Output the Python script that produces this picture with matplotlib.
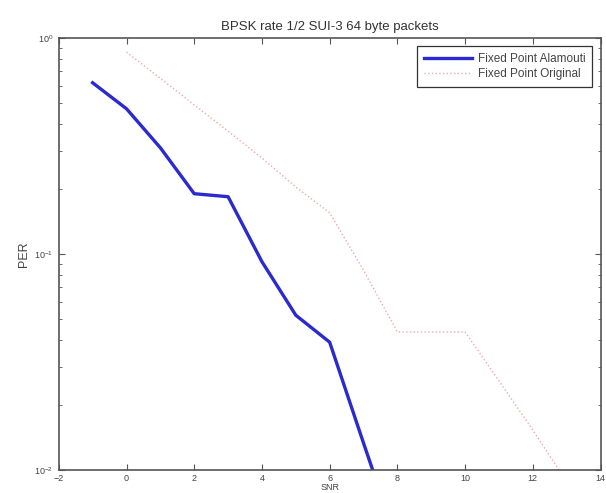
import matplotlib
matplotlib.use("Agg")
import matplotlib.pyplot as plt
from matplotlib.ticker import LogLocator, NullFormatter

plt.rcParams['font.family'] = ['Liberation Sans', 'DejaVu Sans']

snr_alamouti = [-1, 0, 1, 2, 3, 4, 5, 6, 7, 8]
per_alamouti = [0.62, 0.47, 0.31, 0.19, 0.184, 0.092, 0.052, 0.039, 0.0133, 0.0046]

snr_original = [0, 1, 2, 3, 4, 5, 6, 7, 8, 9, 10, 11, 12, 13]
per_original = [0.86, 0.65, 0.49, 0.37, 0.278, 0.204, 0.155, 0.084, 0.0435,
                0.0435, 0.0435, 0.0258, 0.0153, 0.0088]

xticks = [-2, 0, 2, 4, 6, 8, 10, 12, 14]

fig = plt.figure(figsize=(6.06, 4.93), dpi=100)
ax = fig.add_axes([0.097, 0.047, 0.894, 0.876])

ax.plot(snr_alamouti, per_alamouti, color='#2a2ad0', lw=2.4,
        label='Fixed Point Alamouti')
ax.plot(snr_original, per_original, color='#f0a8a8', lw=1.0, ls=':',
        label='Fixed Point Original')

ax.set_yscale('log')
ax.set_xlim(-2, 14)
ax.set_ylim(1e-2, 1e0)
ax.set_xticks(xticks)
ax.yaxis.set_major_locator(LogLocator(base=10, numticks=5))
ax.yaxis.set_minor_locator(LogLocator(base=10, subs=range(2, 10), numticks=20))
ax.yaxis.set_minor_formatter(NullFormatter())

ax.tick_params(which='both', direction='in', top=True, right=True,
               labelsize=6.5, colors='#555555', labelcolor='#444444')
ax.tick_params(which='major', length=4)
ax.tick_params(axis='x', which='major', pad=3)
ax.tick_params(axis='y', which='major', pad=4)
ax.tick_params(which='minor', length=2)
for s in ax.spines.values():
    s.set_color('#555555')
    s.set_linewidth(1.2)

ax.set_title('BPSK rate 1/2 SUI-3 64 byte packets', fontsize=9.5,
             color='#333333', pad=6)
ax.set_xlabel('SNR', fontsize=6.5, color='#444444', labelpad=0)
ax.set_ylabel('PER', fontsize=9, color='#444444', labelpad=3)

leg = ax.legend(loc='upper right', fontsize=8.5, fancybox=False,
                framealpha=1, edgecolor='#333333', borderaxespad=0.7,
                handlelength=4.0, handletextpad=0.5, borderpad=0.6,
                labelspacing=0.25)
for t in leg.get_texts():
    t.set_color('#444444')
leg.get_frame().set_linewidth(0.9)

fig.savefig('out.png', dpi=100)
